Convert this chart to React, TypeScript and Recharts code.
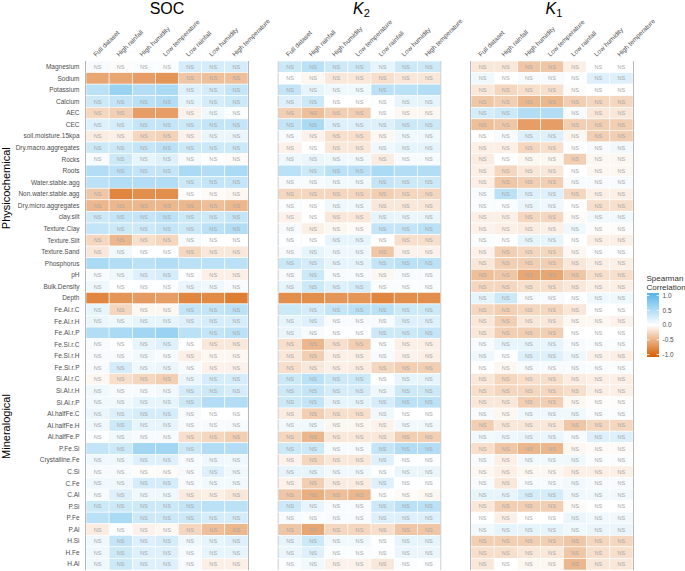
import React from "react";
import { ScatterChart, Scatter, XAxis, YAxis, ReferenceLine } from "recharts";

// row labels (top to bottom)
const rowLabels = [
  "Magnesium", "Sodium", "Potassium", "Calcium", "AEC", "CEC",
  "soil.moisture.15kpa", "Dry.macro.aggregates", "Rocks", "Roots",
  "Water.stable.agg", "Non.water.stable.agg", "Dry.micro.aggregates",
  "clay.silt", "Texture.Clay", "Texture.Silt", "Texture.Sand", "Phosphorus",
  "pH", "Bulk.Density", "Depth", "Fe.Al.r.C", "Fe.Al.r.H", "Fe.Al.r.P",
  "Fe.Si.r.C", "Fe.Si.r.H", "Fe.Si.r.P", "Si.Al.r.C", "Si.Al.r.H", "Si.Al.r.P",
  "Al.halfFe.C", "Al.halfFe.H", "Al.halfFe.P", "P.Fe.Si", "Crystalline.Fe",
  "C.Si", "C.Fe", "C.Al", "P.Si", "P.Fe", "P.Al", "H.Si", "H.Fe", "H.Al",
];

const conditions = [
  "Full dataset", "High rainfall", "High humidity", "Low temperature",
  "Low rainfall", "Low humidity", "High temperature",
];

// Spearman correlations, columns in the order of `conditions`
const socValues = [
  [0.05, -0.02, 0.03, 0.03, 0.25, 0.25, 0.25],
  [-0.55, -0.55, -0.6, -0.65, -0.35, -0.4, -0.4],
  [0.4, 0.6, 0.45, 0.5, 0.2, 0.25, 0.35],
  [0.3, 0.35, 0.4, 0.45, 0.15, 0.25, 0.3],
  [-0.25, -0.3, -0.6, -0.6, -0.08, 0.1, 0.03],
  [0.2, 0.25, 0.35, 0.35, 0.3, 0.35, 0.35],
  [-0.12, -0.1, -0.25, -0.28, -0.08, 0.12, 0.12],
  [0.3, 0.3, 0.35, 0.4, 0.3, 0.3, 0.3],
  [0.05, 0.3, 0.15, 0.2, 0.05, 0.0, -0.03],
  [0.45, 0.4, 0.35, 0.35, 0.5, 0.45, 0.5],
  [0.4, 0.45, 0.45, 0.45, 0.3, 0.35, 0.35],
  [-0.35, -0.75, -0.7, -0.7, 0.0, -0.03, -0.05],
  [-0.45, -0.45, -0.45, -0.45, -0.45, -0.4, -0.45],
  [0.3, 0.35, 0.35, 0.4, 0.3, 0.3, 0.35],
  [0.35, 0.3, 0.3, 0.35, 0.3, 0.4, 0.45],
  [-0.25, -0.45, -0.2, -0.25, 0.05, 0.0, 0.0],
  [-0.15, 0.08, 0.02, 0.02, -0.25, -0.15, -0.15],
  [0.5, 0.45, 0.4, 0.45, 0.4, 0.4, 0.4],
  [0.05, 0.1, 0.2, 0.25, 0.02, -0.1, -0.1],
  [0.1, 0.0, 0.02, 0.02, 0.12, 0.1, 0.05],
  [-0.75, -0.65, -0.62, -0.6, -0.75, -0.72, -0.8],
  [0.15, -0.25, -0.05, -0.05, 0.35, 0.35, 0.4],
  [0.12, 0.1, 0.15, 0.15, 0.2, 0.25, 0.25],
  [0.45, 0.5, 0.55, 0.6, 0.4, 0.35, 0.4],
  [0.05, 0.0, 0.15, 0.2, 0.0, -0.15, -0.15],
  [0.05, 0.05, 0.08, 0.05, -0.1, -0.05, -0.05],
  [0.05, 0.25, 0.1, 0.12, 0.05, -0.08, -0.08],
  [-0.05, -0.2, -0.25, -0.3, 0.12, 0.25, 0.25],
  [0.1, 0.05, 0.05, 0.08, 0.25, 0.3, 0.25],
  [0.08, 0.08, 0.15, 0.15, 0.3, 0.45, 0.45],
  [0.12, 0.2, 0.25, 0.25, 0.05, 0.0, 0.0],
  [0.1, 0.3, 0.15, 0.15, 0.05, 0.05, 0.05],
  [0.02, 0.08, 0.05, 0.05, -0.2, -0.25, -0.3],
  [0.35, 0.3, 0.55, 0.55, 0.3, 0.45, 0.45],
  [0.1, 0.1, 0.2, 0.2, 0.05, 0.1, 0.1],
  [0.05, 0.05, -0.02, -0.03, 0.05, 0.2, 0.1],
  [0.1, 0.1, 0.25, 0.25, 0.05, 0.08, 0.08],
  [0.05, 0.2, 0.1, 0.1, -0.12, -0.1, -0.15],
  [0.3, 0.3, 0.3, 0.3, 0.35, 0.4, 0.4],
  [0.4, 0.5, 0.3, 0.3, 0.3, 0.25, 0.25],
  [-0.12, 0.03, -0.08, -0.05, -0.25, -0.4, -0.45],
  [0.1, 0.35, 0.2, 0.25, 0.1, 0.15, 0.2],
  [0.1, 0.3, 0.2, 0.2, 0.05, 0.15, 0.15],
  [0.1, 0.3, 0.2, 0.2, 0.05, -0.1, -0.1],
];

// s = significant, n = NS
const socSig = [
  "nnnnnnn", "ssssnnn", "ssssnnn", "nnnnnnn", "nnssnnn", "nnnnnnn",
  "nnnnnnn", "nnnnnnn", "nnnnnnn", "snnnsss", "ssssnnn", "nsssnnn",
  "nnnnnnn", "nnnnnnn", "snnnnnn", "nnnnnnn", "nnnnnnn", "sssssss",
  "nnnnnnn", "nnnnnnn", "sssssss", "nnnnnnn", "nnnnnnn", "sssssnn",
  "nnnnnnn", "nnnnnnn", "nnnnnnn", "nnnnnnn", "nnnnnnn", "nnnnnss",
  "nnnnnnn", "nnnnnnn", "nnnnnnn", "snssnss", "nnnnnnn", "nnnnnnn",
  "nnnnnnn", "nnnnnnn", "nnnnnss", "ssnnnnn", "nnnnnnn", "nnnnnnn",
  "nnnnnnn", "nnnnnnn",
];

const k2Values = [
  [0.3, 0.4, 0.3, 0.3, 0.15, 0.3, 0.3],
  [0.0, -0.05, -0.15, -0.15, -0.2, -0.15, -0.15],
  [0.35, 0.15, 0.1, 0.1, 0.4, 0.4, 0.45],
  [0.2, 0.3, 0.0, 0.0, 0.02, 0.15, 0.15],
  [-0.3, -0.4, -0.3, -0.3, 0.0, -0.05, -0.05],
  [0.35, 0.5, 0.2, 0.2, 0.2, 0.3, 0.3],
  [0.05, -0.08, -0.2, -0.2, -0.05, 0.1, 0.1],
  [-0.08, 0.0, -0.15, -0.15, 0.1, 0.15, 0.15],
  [0.1, 0.12, 0.1, 0.08, -0.12, 0.05, 0.05],
  [0.4, 0.3, 0.4, 0.4, 0.5, 0.45, 0.45],
  [0.05, 0.05, 0.08, 0.08, 0.35, 0.3, 0.3],
  [-0.25, -0.25, -0.25, -0.25, -0.3, -0.25, -0.25],
  [0.03, 0.0, 0.1, 0.08, -0.15, -0.15, -0.15],
  [-0.08, 0.0, -0.15, -0.15, 0.15, 0.12, 0.12],
  [0.05, -0.1, -0.05, -0.03, 0.35, 0.35, 0.4],
  [0.02, 0.0, 0.15, 0.15, 0.0, -0.2, -0.2],
  [0.05, 0.15, 0.1, 0.1, -0.35, -0.08, -0.08],
  [0.3, 0.25, 0.15, 0.15, 0.35, 0.4, 0.4],
  [0.05, 0.3, 0.05, 0.05, -0.05, 0.05, 0.05],
  [0.15, 0.3, 0.2, 0.25, 0.03, 0.03, 0.03],
  [-0.7, -0.7, -0.65, -0.65, -0.75, -0.7, -0.7],
  [0.3, 0.25, 0.35, 0.4, 0.4, 0.3, 0.3],
  [0.15, 0.2, 0.05, 0.05, 0.05, 0.2, 0.2],
  [0.12, 0.05, 0.02, 0.02, 0.3, 0.3, 0.35],
  [-0.2, -0.45, -0.2, -0.3, 0.03, -0.1, -0.1],
  [-0.15, -0.3, -0.1, -0.1, 0.05, -0.08, -0.1],
  [-0.2, -0.15, -0.1, -0.12, -0.25, -0.3, -0.3],
  [0.3, 0.4, 0.3, 0.3, 0.02, 0.15, 0.15],
  [0.3, 0.35, 0.25, 0.25, 0.1, 0.3, 0.3],
  [0.3, 0.35, 0.15, 0.15, 0.25, 0.4, 0.4],
  [-0.12, -0.3, -0.2, -0.2, 0.1, 0.0, 0.0],
  [0.08, 0.1, -0.05, -0.05, -0.08, 0.08, 0.08],
  [-0.25, -0.45, -0.15, -0.15, -0.15, -0.3, -0.3],
  [0.3, 0.3, 0.05, 0.05, 0.35, 0.45, 0.45],
  [-0.08, -0.25, -0.15, -0.15, 0.2, 0.02, 0.02],
  [0.15, 0.15, 0.08, 0.08, 0.02, 0.12, 0.12],
  [-0.08, -0.3, -0.12, -0.12, 0.2, 0.02, 0.02],
  [-0.35, -0.5, -0.4, -0.45, 0.0, -0.03, -0.05],
  [0.3, 0.15, 0.05, 0.05, 0.3, 0.4, 0.4],
  [0.05, 0.03, 0.05, 0.05, 0.2, 0.2, 0.2],
  [-0.35, -0.55, -0.25, -0.25, -0.2, -0.35, -0.35],
  [0.15, 0.3, 0.08, 0.08, 0.02, 0.15, 0.15],
  [0.12, 0.2, 0.03, 0.03, 0.02, 0.12, 0.12],
  [0.03, 0.08, -0.08, -0.08, -0.15, 0.03, 0.02],
];

const k2Sig = [
  "nnnnnnn", "nnnnnnn", "nnnnnss", "nnnnnnn", "nnnnnnn", "nnnnnnn",
  "nnnnnnn", "nnnnnnn", "nnnnnnn", "snnnsss", "nnnnnnn", "nnnnnnn",
  "nnnnnnn", "nnnnnnn", "nnnnnnn", "nnnnnnn", "nnnnnnn", "nnnnnnn",
  "nnnnnnn", "nnnnnnn", "sssssss", "snnnnnn", "nnnnnnn", "nnnnnnn",
  "nnnnnnn", "nnnnnnn", "nnnnnnn", "nnnnnnn", "nnnnnnn", "nnnnnnn",
  "nnnnnnn", "nnnnnnn", "nnnnnnn", "nnnnnnn", "nnnnnnn", "nnnnnnn",
  "nnnnnnn", "nnnnnnn", "nnnnnnn", "nnnnnnn", "nnnnnnn", "nnnnnnn",
  "nnnnnnn", "nnnnnnn",
];

const k1Values = [
  [-0.15, -0.15, -0.35, -0.35, -0.1, 0.0, 0.0],
  [0.1, 0.0, 0.05, 0.05, 0.02, 0.2, 0.2],
  [-0.15, -0.25, -0.2, -0.2, -0.02, 0.0, 0.0],
  [-0.35, -0.3, -0.45, -0.45, -0.3, -0.25, -0.25],
  [0.25, 0.3, 0.45, 0.45, 0.05, -0.15, -0.15],
  [-0.4, -0.35, -0.6, -0.6, -0.3, -0.3, -0.3],
  [0.0, 0.05, 0.2, 0.2, -0.05, -0.3, -0.3],
  [-0.1, -0.1, -0.25, -0.2, 0.02, 0.05, 0.08],
  [-0.12, 0.0, -0.05, -0.05, -0.3, -0.05, -0.05],
  [-0.1, -0.25, -0.15, -0.15, 0.0, -0.05, -0.05],
  [-0.1, -0.35, -0.3, -0.3, 0.05, 0.05, 0.05],
  [0.05, 0.4, 0.2, 0.2, -0.25, -0.1, -0.1],
  [0.03, 0.03, 0.12, 0.1, 0.0, -0.2, -0.2],
  [-0.1, -0.1, -0.25, -0.25, -0.03, 0.08, 0.08],
  [-0.08, -0.1, -0.12, -0.1, 0.1, -0.02, -0.02],
  [0.03, 0.0, 0.15, 0.15, 0.0, -0.1, -0.1],
  [-0.08, -0.3, -0.25, -0.25, -0.05, 0.02, 0.02],
  [-0.15, -0.3, -0.3, -0.3, -0.15, -0.1, -0.1],
  [-0.4, -0.35, -0.55, -0.55, -0.35, -0.2, -0.2],
  [-0.25, -0.25, -0.2, -0.2, -0.15, -0.1, -0.1],
  [0.15, 0.3, 0.05, 0.05, 0.02, 0.1, 0.1],
  [-0.25, -0.3, -0.25, -0.25, -0.15, 0.0, 0.0],
  [-0.15, -0.3, -0.15, -0.15, -0.05, -0.05, -0.08],
  [-0.15, -0.3, -0.3, -0.3, 0.0, 0.0, 0.0],
  [0.05, 0.15, 0.15, 0.15, 0.05, 0.03, 0.03],
  [0.1, 0.02, 0.2, 0.2, 0.1, -0.08, -0.1],
  [0.0, -0.05, 0.05, 0.05, 0.05, 0.03, 0.03],
  [-0.15, -0.25, -0.2, -0.2, -0.12, -0.1, -0.1],
  [-0.2, -0.25, -0.25, -0.25, -0.2, -0.1, -0.1],
  [-0.15, -0.15, -0.3, -0.3, -0.05, -0.02, -0.02],
  [0.05, -0.05, 0.1, 0.1, 0.1, 0.03, 0.03],
  [-0.3, -0.15, -0.15, -0.15, -0.35, -0.25, -0.25],
  [0.08, 0.1, 0.12, 0.12, 0.05, 0.2, 0.2],
  [-0.2, -0.35, -0.45, -0.45, -0.05, -0.03, -0.03],
  [0.05, -0.1, 0.08, 0.08, 0.1, 0.03, 0.03],
  [-0.05, -0.1, -0.05, -0.05, -0.1, -0.1, -0.1],
  [0.05, -0.15, 0.05, 0.05, 0.08, 0.05, 0.05],
  [0.15, 0.15, 0.25, 0.25, 0.1, 0.08, 0.08],
  [-0.15, -0.3, -0.3, -0.3, -0.03, 0.0, 0.0],
  [0.0, -0.1, 0.0, 0.0, 0.12, 0.08, 0.08],
  [0.08, 0.15, 0.15, 0.15, 0.1, 0.12, 0.12],
  [-0.3, -0.3, -0.3, -0.3, -0.35, -0.25, -0.25],
  [-0.2, -0.2, -0.15, -0.15, -0.35, -0.2, -0.2],
  [-0.15, 0.0, -0.05, -0.05, -0.45, -0.15, -0.15],
];

const k1Sig = [
  "nnnnnnn", "nnnnnnn", "nnnnnnn", "nnnnnnn", "nnssnnn", "nnssnnn",
  "nnnnnnn", "nnnnnnn", "nnnnnnn", "nnnnnnn", "nnnnnnn", "nnnnnnn",
  "nnnnnnn", "nnnnnnn", "nnnnnnn", "nnnnnnn", "nnnnnnn", "nnnnnnn",
  "nnnnnnn", "nnnnnnn", "nnnnnnn", "nnnnnnn", "nnnnnnn", "nnnnnnn",
  "nnnnnnn", "nnnnnnn", "nnnnnnn", "nnnnnnn", "nnnnnnn", "nnnnnnn",
  "nnnnnnn", "nnnnnnn", "nnnnnnn", "nnnnnnn", "nnnnnnn", "nnnnnnn",
  "nnnnnnn", "nnnnnnn", "nnnnnnn", "nnnnnnn", "nnnnnnn", "nnnnnnn",
  "nnnnnnn", "nnnnnnn",
];

const legendTicks = [1.0, 0.5, 0.0, -0.5, -1.0];

const panels = [
  { values: socValues, sig: socSig },
  { values: k2Values, sig: k2Sig },
  { values: k1Values, sig: k1Sig },
];

// layout
const W = 685;
const H = 571;
const MARGIN = { top: 0, right: 52, bottom: 1, left: 0 };
const X_AXIS_H = 61;
const Y_AXIS_W = 86;
const STRIDE = 8.32; // panel width + gap, in column units
const X_MAX = 2 * STRIDE + 7;
const PLOT_W = W - MARGIN.left - MARGIN.right - Y_AXIS_W;
const PLOT_H = H - MARGIN.top - MARGIN.bottom - X_AXIS_H;
const CELL_W = PLOT_W / X_MAX;
const CELL_H = PLOT_H / rowLabels.length;

const LOW = [213, 94, 0];
const HIGH = [86, 180, 233];
const fillFor = (v: number) => {
  const t = Math.min(1, Math.abs(v));
  const end = v < 0 ? LOW : HIGH;
  const c = end.map((e) => Math.round(255 + (e - 255) * t));
  return `rgb(${c.join(",")})`;
};

const cells = panels.flatMap((pd, p) =>
  pd.values.flatMap((row, r) =>
    row.map((v, c) => ({
      x: p * STRIDE + c + 0.5,
      y: r + 0.5,
      v,
      ns: pd.sig[r][c] === "n",
    }))
  )
);

const xTicks = panels.flatMap((_, p) => conditions.map((_, c) => p * STRIDE + c + 0.5));
const yTicks = rowLabels.map((_, r) => r + 0.5);
const panelLines = panels.flatMap((_, p) => [0, 1, 4, 7].map((c) => p * STRIDE + c));

const TileShape = (props: any) => {
  const { cx, cy, payload } = props;
  return (
    <g>
      <rect
        x={cx - CELL_W / 2}
        y={cy - CELL_H / 2}
        width={CELL_W}
        height={CELL_H}
        fill={fillFor(payload.v)}
        stroke="#ffffff"
        strokeWidth={0.6}
      />
      {payload.ns && (
        <text x={cx} y={cy} dy="0.36em" textAnchor="middle" fontSize={5.6} fill="#a8a8a8">
          NS
        </text>
      )}
    </g>
  );
};

const ConditionTick = (props: any) => {
  const { x, payload } = props;
  const v = payload.value;
  const c = Math.floor(v - Math.floor(v / STRIDE) * STRIDE);
  return (
    <text
      x={x - 1.5}
      y={X_AXIS_H - 4}
      transform={`rotate(-45, ${x - 1.5}, ${X_AXIS_H - 4})`}
      fontSize={6.5}
      fill="#4d4d4d"
      textAnchor="start"
    >
      {conditions[c]}
    </text>
  );
};

const RowTick = (props: any) => {
  const { y, payload } = props;
  return (
    <text x={Y_AXIS_W - 6.5} y={y} dy="0.35em" fontSize={6.5} fill="#4d4d4d" textAnchor="end">
      {rowLabels[Math.floor(payload.value)]}
    </text>
  );
};

const panelCenter = (p: number) => Y_AXIS_W + (p * STRIDE + 3.5) * CELL_W;
const rowY = (r: number) => X_AXIS_H + r * CELL_H;

export default function App() {
  const barTop = 293;
  const barH = 64;
  const tickY = (v: number) => 295.6 + ((1 - v) / 2) * 59;
  return (
    <div
      style={{
        position: "absolute",
        left: 0,
        top: 0,
        width: W,
        height: H,
        background: "#fff",
        fontFamily: "Arial, 'Liberation Sans', Helvetica, sans-serif",
      }}
    >
      <ScatterChart width={W} height={H} margin={MARGIN}>
        <XAxis
          type="number"
          dataKey="x"
          domain={[0, X_MAX]}
          orientation="top"
          height={X_AXIS_H}
          ticks={xTicks}
          interval={0}
          tick={<ConditionTick />}
          axisLine={false}
          tickLine={false}
        />
        <YAxis
          type="number"
          dataKey="y"
          domain={[0, rowLabels.length]}
          reversed
          width={Y_AXIS_W}
          ticks={yTicks}
          interval={0}
          tick={<RowTick />}
          axisLine={false}
          tickLine={false}
        />
        <Scatter data={cells} shape={TileShape} isAnimationActive={false} />
        {panelLines.map((x, i) => (
          <ReferenceLine key={i} x={x} stroke="#555555" strokeWidth={1.2} />
        ))}
      </ScatterChart>
      <svg
        width={W}
        height={H}
        style={{ position: "absolute", left: 0, top: 0, pointerEvents: "none" }}
      >
        <defs>
          <linearGradient id="corr" x1="0" y1="0" x2="0" y2="1">
            <stop offset="0%" stopColor={fillFor(1)} />
            <stop offset="50%" stopColor="#ffffff" />
            <stop offset="100%" stopColor={fillFor(-1)} />
          </linearGradient>
        </defs>
        <text x={panelCenter(0)} y={14} fontSize={16} textAnchor="middle" fill="#000">
          SOC
        </text>
        <text x={panelCenter(1) + 2} y={14} fontSize={16} textAnchor="middle" fill="#000">
          <tspan fontStyle="italic">K</tspan>
          <tspan fontSize={11} dy={3}>2</tspan>
        </text>
        <text x={panelCenter(2) + 2} y={14} fontSize={16} textAnchor="middle" fill="#000">
          <tspan fontStyle="italic">K</tspan>
          <tspan fontSize={11} dy={3}>1</tspan>
        </text>
        <text
          x={10}
          y={(rowY(7) + rowY(15)) / 2}
          fontSize={11}
          textAnchor="middle"
          fill="#000"
          transform={`rotate(-90, 10, ${(rowY(7) + rowY(15)) / 2})`}
        >
          Physicochemical
        </text>
        <text
          x={10}
          y={426.5}
          fontSize={11}
          textAnchor="middle"
          fill="#000"
          transform={`rotate(-90, 10, 426.5)`}
        >
          Mineralogical
        </text>
        <text x={646.5} y={281} fontSize={8} fill="#333">
          Spearman
        </text>
        <text x={646.5} y={290} fontSize={8} fill="#333">
          Correlation
        </text>
        <rect x={647} y={barTop} width={12} height={barH} fill="url(#corr)" />
        {legendTicks.map((v) => (
          <g key={v}>
            <line x1={647} x2={649.5} y1={tickY(v)} y2={tickY(v)} stroke="#fff" strokeWidth={0.8} />
            <line x1={656.5} x2={659} y1={tickY(v)} y2={tickY(v)} stroke="#fff" strokeWidth={0.8} />
            <text x={662.5} y={tickY(v)} dy="0.35em" fontSize={6.5} fill="#4d4d4d">
              {v.toFixed(1)}
            </text>
          </g>
        ))}
      </svg>
    </div>
  );
}
